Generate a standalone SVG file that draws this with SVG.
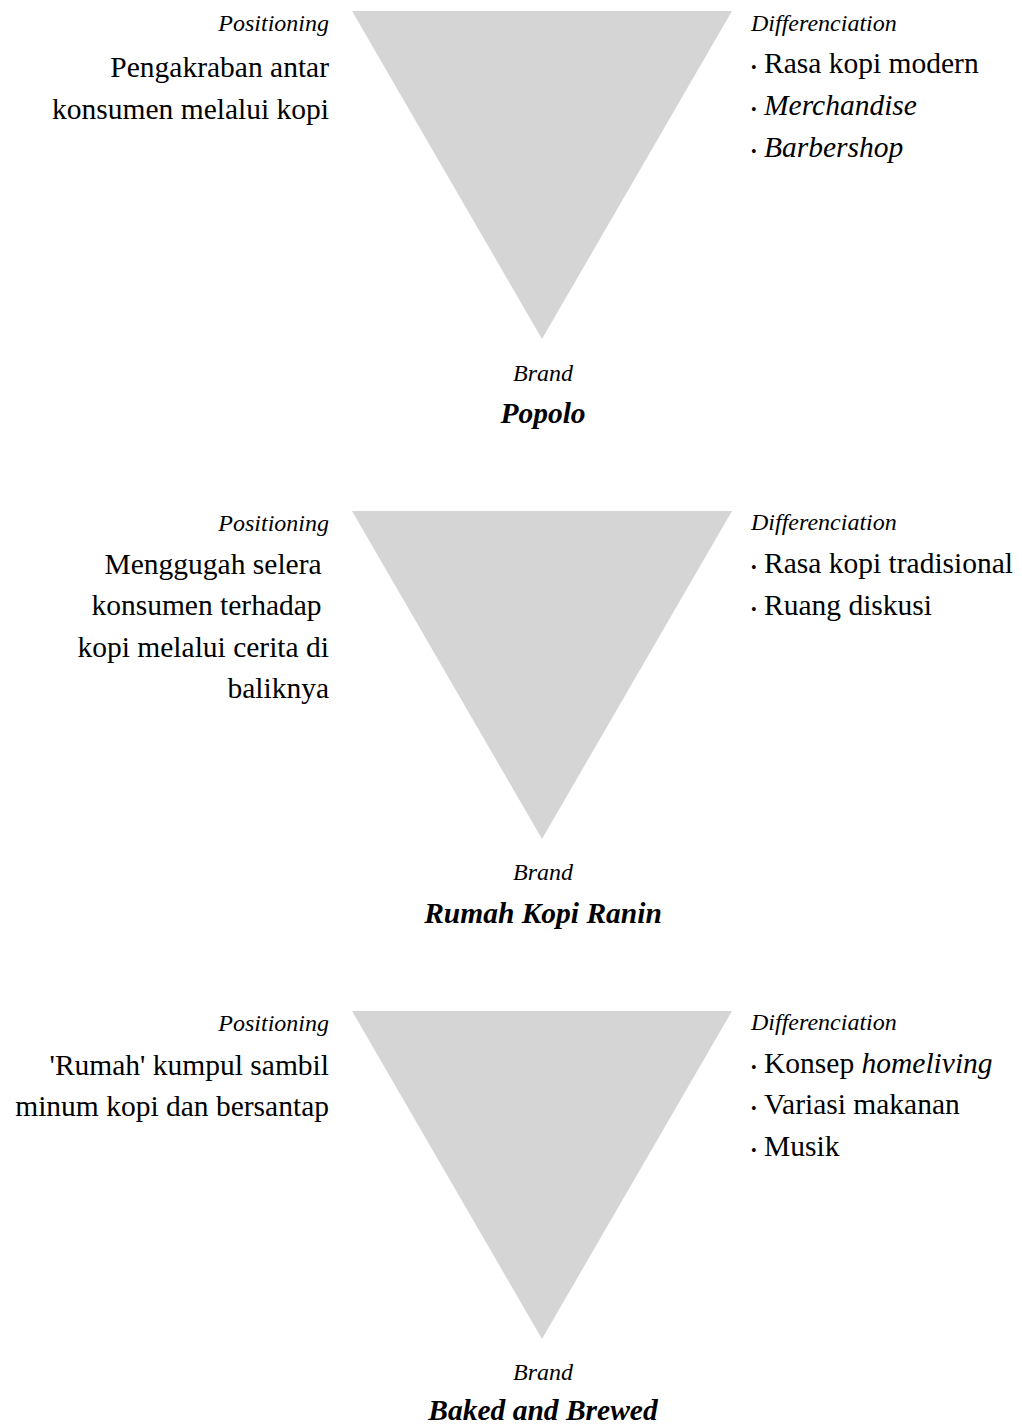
<svg xmlns="http://www.w3.org/2000/svg" width="1022" height="1425" viewBox="0 0 1022 1425">
<style>
text{font-family:"Liberation Serif","Times New Roman",serif;fill:#000}
.lab{font-size:24px;font-style:italic}
.body{font-size:29.5px}
.r{text-anchor:end}
.c{text-anchor:middle}
.brand{font-size:29.5px;font-style:italic;font-weight:bold}
.it{font-style:italic}
.tri{fill:#d5d5d5}
.dot{font-size:16px}
</style>
<rect width="1022" height="1425" fill="#fff"/>
<g id="connectors"/>
<g id="popolo">
<polygon class="tri" points="352,11 732,11 542,339"/>
<text class="lab r" x="329" y="31">Positioning</text>
<text class="body r" x="329" y="77">Pengakraban antar</text>
<text class="body r" x="329" y="119">konsumen melalui kopi</text>
<text class="lab" x="751" y="31">Differenciation</text>
<text class="body" y="73"><tspan x="751" class="dot">•</tspan><tspan x="764">Rasa kopi modern</tspan></text>
<text class="body" y="115"><tspan x="751" class="dot">•</tspan><tspan x="764" class="it">Merchandise</tspan></text>
<text class="body" y="157"><tspan x="751" class="dot">•</tspan><tspan x="764" class="it">Barbershop</tspan></text>
<text class="lab c" x="543" y="381">Brand</text>
<text class="brand c" x="543" y="423">Popolo</text>
</g>
<g id="rumah-kopi-ranin">
<polygon class="tri" points="352,511 732,511 542,839"/>
<text class="lab r" x="329" y="531">Positioning</text>
<text class="body r" x="329" y="574" xml:space="preserve">Menggugah selera </text>
<text class="body r" x="329" y="615" xml:space="preserve">konsumen terhadap </text>
<text class="body r" x="329" y="657">kopi melalui cerita di</text>
<text class="body r" x="329" y="698">baliknya</text>
<text class="lab" x="751" y="530">Differenciation</text>
<text class="body" y="573"><tspan x="751" class="dot">•</tspan><tspan x="764">Rasa kopi tradisional</tspan></text>
<text class="body" y="615"><tspan x="751" class="dot">•</tspan><tspan x="764">Ruang diskusi</tspan></text>
<text class="lab c" x="543" y="880">Brand</text>
<text class="brand c" x="543" y="923">Rumah Kopi Ranin</text>
</g>
<g id="baked-and-brewed">
<polygon class="tri" points="352,1011 732,1011 542,1339"/>
<text class="lab r" x="329" y="1031">Positioning</text>
<text class="body r" x="329" y="1075">'Rumah' kumpul sambil</text>
<text class="body r" x="329" y="1116">minum kopi dan bersantap</text>
<text class="lab" x="751" y="1030">Differenciation</text>
<text class="body" y="1073"><tspan x="751" class="dot">•</tspan><tspan x="764">Konsep </tspan><tspan class="it">homeliving</tspan></text>
<text class="body" y="1114"><tspan x="751" class="dot">•</tspan><tspan x="764">Variasi makanan</tspan></text>
<text class="body" y="1156"><tspan x="751" class="dot">•</tspan><tspan x="764">Musik</tspan></text>
<text class="lab c" x="543" y="1380">Brand</text>
<text class="brand c" x="543" y="1420">Baked and Brewed</text>
</g>
</svg>
